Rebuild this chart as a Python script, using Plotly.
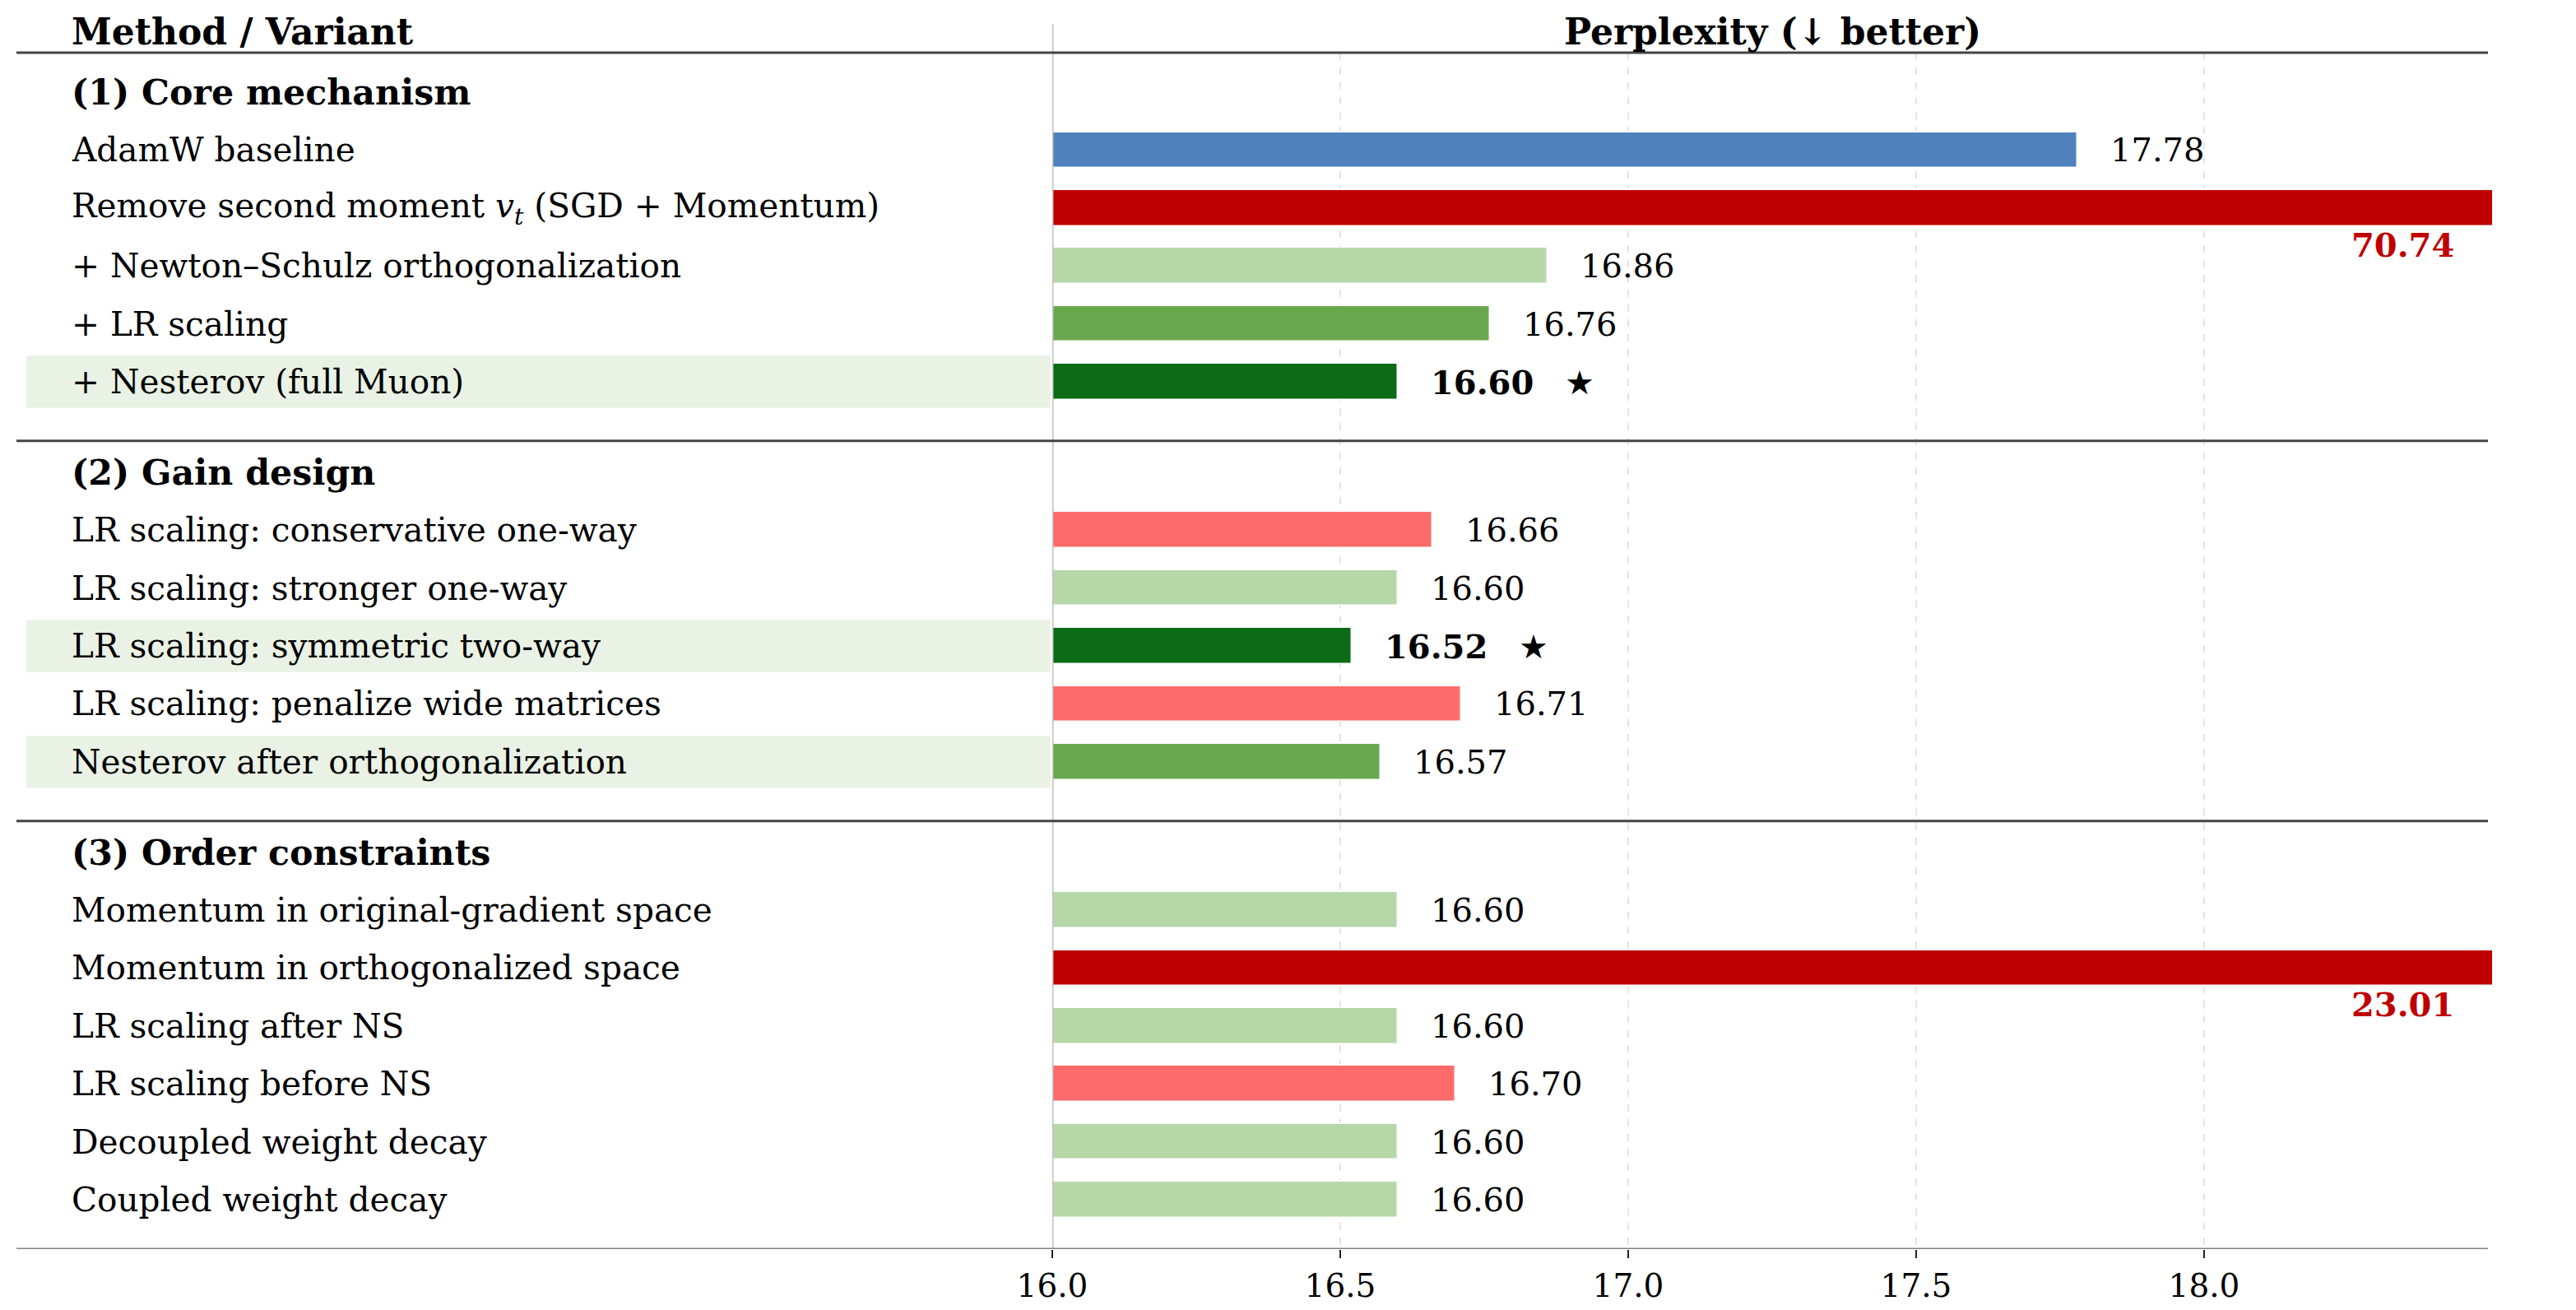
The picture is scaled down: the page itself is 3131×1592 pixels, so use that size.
import plotly.graph_objects as go

# ---------------- data ----------------
section_titles = ["(1) Core mechanism", "(2) Gain design", "(3) Order constraints"]

s1_labels = [
    "AdamW baseline",
    "Remove second moment <i>v</i><sub><i>t</i></sub> (SGD + Momentum)",
    "+ Newton\u2013Schulz orthogonalization",
    "+ LR scaling",
    "+ Nesterov (full Muon)",
]
s1_values = [17.78, 70.74, 16.86, 16.76, 16.60]
s1_status = ["baseline", "fail", "ok", "good", "best"]

s2_labels = [
    "LR scaling: conservative one-way",
    "LR scaling: stronger one-way",
    "LR scaling: symmetric two-way",
    "LR scaling: penalize wide matrices",
    "Nesterov after orthogonalization",
]
s2_values = [16.66, 16.60, 16.52, 16.71, 16.57]
s2_status = ["worse", "ok", "best", "worse", "good"]
s2_highlight_extra = [False, False, False, False, True]

s3_labels = [
    "Momentum in original-gradient space",
    "Momentum in orthogonalized space",
    "LR scaling after NS",
    "LR scaling before NS",
    "Decoupled weight decay",
    "Coupled weight decay",
]
s3_values = [16.60, 23.01, 16.60, 16.70, 16.60, 16.60]
s3_status = ["ok", "fail", "ok", "worse", "ok", "ok"]

tick_values = [16.0, 16.5, 17.0, 17.5, 18.0]
tick_labels = ["16.0", "16.5", "17.0", "17.5", "18.0"]
x_min, x_max = 16.0, 18.5

header_left = "Method / Variant"
header_right = "Perplexity (\u2193 better)"

# ---------------- styles ----------------
W, H = 3131, 1592
ROW = 70.4  # pixels per row unit
FONT = "DejaVu Serif"
FS = 40.6
FS_HEAD = 44
FS_TITLE = 42.7
colors = {
    "baseline": "#4F81BD",
    "fail": "#C00000",
    "ok": "#B6D7A8",
    "good": "#6AA84F",
    "best": "#0B6B16",
    "worse": "#FF6B6B",
}
band_color = "#E9F2E5"
line_dark = "#444444"

sections = [
    (s1_labels, s1_values, s1_status, [False] * 5),
    (s2_labels, s2_values, s2_status, s2_highlight_extra),
    (s3_labels, s3_values, s3_status, [False] * 6),
]

# layout positions in row units (y reversed)
header_y = 38 / ROW
header_line_y = 64 / ROW
divider_top = 29 / ROW
title_y = 112 / ROW

ys, vals, cols, labels, statuses, highlights = [], [], [], [], [], []
title_ys, sep_ys = [], []
y = title_y
for si, (labs, vs, sts, hl) in enumerate(sections):
    title_ys.append(y)
    for i, (lab, v, st, h) in enumerate(zip(labs, vs, sts, hl)):
        y_row = y + 1 + i
        ys.append(y_row)
        vals.append(v)
        cols.append(colors[st])
        labels.append(lab)
        statuses.append(st)
        highlights.append(h or st == "best")
    last = y + len(labs)
    if si < len(sections) - 1:
        sep = last + 1.02
        sep_ys.append(sep)
        y = sep + 0.54
    else:
        bottom_y = last + 0.85

y_total_px = bottom_y * ROW

fig = go.Figure()
fig.add_trace(go.Bar(
    y=ys, x=vals, orientation="h", width=0.62,
    marker=dict(color=cols, line=dict(color="white", width=1.5)),
    hoverinfo="skip", showlegend=False,
))

shapes = []
annotations = []
xl = 1279 / W
xr = 3029 / W
text_x = 85 / W

# highlight bands
for yy, h in zip(ys, highlights):
    if h:
        shapes.append(dict(type="rect", xref="paper", yref="y", x0=32 / W, x1=1277 / W,
                           y0=yy - 0.45, y1=yy + 0.45, fillcolor=band_color,
                           line=dict(width=0), layer="below"))
# dashed gridlines
for tv in tick_values[1:]:
    shapes.append(dict(type="line", xref="x", yref="y", x0=tv, x1=tv,
                       y0=header_line_y, y1=bottom_y,
                       line=dict(color="#DCDCDC", width=1.5, dash="dash"), layer="below"))
# divider at 16.0
shapes.append(dict(type="line", xref="x", yref="y", x0=x_min, x1=x_min,
                   y0=divider_top, y1=bottom_y, line=dict(color="#C0C0C0", width=3),
                   layer="above"))
# header and separators
for sy in [header_line_y] + sep_ys:
    shapes.append(dict(type="line", xref="paper", yref="y", x0=20 / W, x1=3024 / W,
                       y0=sy, y1=sy, line=dict(color=line_dark, width=3)))
# bottom line
shapes.append(dict(type="line", xref="paper", yref="y", x0=20 / W, x1=3024 / W,
                   y0=bottom_y, y1=bottom_y, line=dict(color="#808080", width=3)))

font = dict(family=FONT, size=FS, color="black")
# headers
annotations.append(dict(xref="paper", yref="y", x=text_x, y=header_y, text="<b>" + header_left + "</b>",
                        xanchor="left", yanchor="middle", showarrow=False,
                        font=dict(family=FONT, size=FS_HEAD, color="black")))
annotations.append(dict(xref="paper", yref="y", x=(xl + xr) / 2, y=header_y,
                        text="<b>" + header_right + "</b>",
                        xanchor="center", yanchor="middle", showarrow=False,
                        font=dict(family=FONT, size=FS_HEAD, color="black")))
for t, ty in zip(section_titles, title_ys):
    annotations.append(dict(xref="paper", yref="y", x=text_x, y=ty, text="<b>" + t + "</b>",
                            xanchor="left", yanchor="middle", showarrow=False,
                            font=dict(family=FONT, size=FS_TITLE, color="black")))
for lab, yy in zip(labels, ys):
    annotations.append(dict(xref="paper", yref="y", x=text_x, y=yy, text=lab,
                            xanchor="left", yanchor="middle", showarrow=False, font=font))
# value labels
vfont = dict(family=FONT, size=40, color="black")
for v, yy, st in zip(vals, ys, statuses):
    if v > x_max:
        annotations.append(dict(xref="x", yref="y", x=x_max, y=yy + 0.63,
                                text="<b>%.2f</b>" % v, xanchor="right", yanchor="middle",
                                xshift=-44, showarrow=False,
                                font=dict(family=FONT, size=40, color=colors["fail"])))
    else:
        if st == "best":
            txt = "<b>%.2f</b>\u00a0\u00a0\u00a0\u2605" % v
        else:
            txt = "%.2f" % v
        annotations.append(dict(xref="x", yref="y", x=v, y=yy, text=txt,
                                xanchor="left", yanchor="middle", xshift=38,
                                showarrow=False, font=vfont))

fig.update_layout(
    template="none",
    width=W, height=H, margin=dict(l=0, r=0, t=0, b=0, pad=0, autoexpand=False),
    paper_bgcolor="white", plot_bgcolor="white",
    bargap=0, shapes=shapes, annotations=annotations,
    xaxis=dict(domain=[xl, xr], range=[x_min, x_max], tickvals=tick_values, ticktext=tick_labels,
               showgrid=False, zeroline=False, showline=False, ticks="outside", ticklen=10,
               tickwidth=2, tickcolor="#222222", automargin=False,
               tickfont=dict(family=FONT, size=39, color="black"), fixedrange=True),
    yaxis=dict(domain=[1 - y_total_px / H, 1], range=[bottom_y, 0], showgrid=False,
               zeroline=False, showticklabels=False, showline=False, ticks="",
               automargin=False, fixedrange=True),
)

fig.write_html("out.html")
